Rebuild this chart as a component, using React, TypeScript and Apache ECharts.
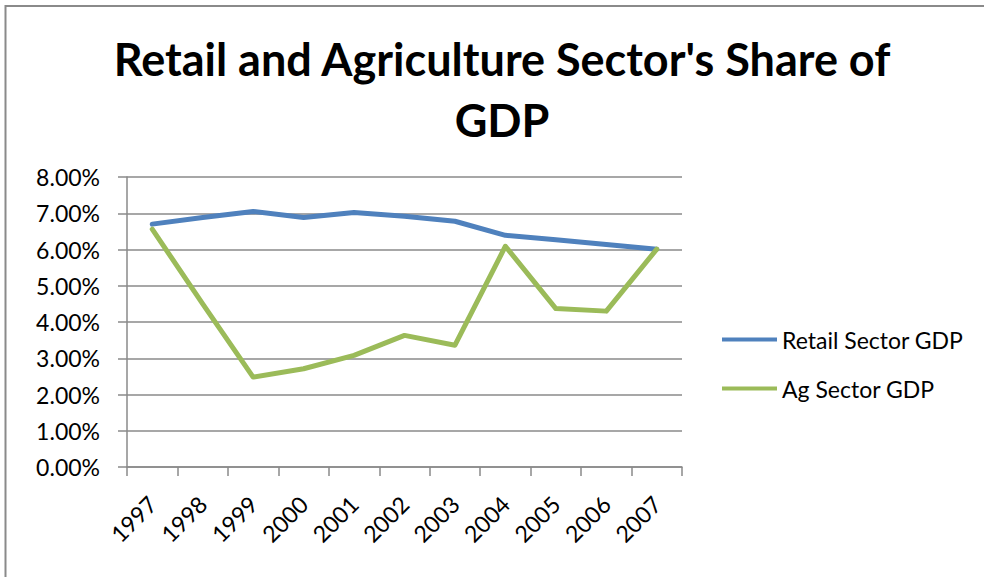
import React, { useEffect, useRef } from "react";
import * as echarts from "echarts";

const years = ["1997", "1998", "1999", "2000", "2001", "2002", "2003", "2004", "2005", "2006", "2007"];
const retailGdp = [6.7, 6.88, 7.05, 6.88, 7.02, 6.92, 6.78, 6.39, 6.27, 6.14, 6.01];
const agGdp = [6.56, 4.5, 2.48, 2.71, 3.08, 3.63, 3.36, 6.09, 4.37, 4.3, 6.01];
const seriesNames = ["Retail Sector GDP", "Ag Sector GDP"];
const titleText = "Retail and Agriculture Sector's Share of\nGDP";

export default function App() {
  const ref = useRef<HTMLDivElement>(null);
  useEffect(() => {
    if (!ref.current) return;
    document.body.style.margin = "0";
    document.body.style.overflow = "hidden";
    const chart = echarts.init(ref.current, undefined, { renderer: "svg" });
    const font = "Lato, 'Noto Sans', sans-serif";
    chart.setOption({
      animation: false,
      backgroundColor: "#ffffff",
      textStyle: { fontFamily: font },
      grid: { left: 127, right: 302, top: 177, bottom: 110, containLabel: false },
      legend: {
        orient: "vertical",
        left: 717,
        top: 323,
        itemWidth: 55,
        itemHeight: 4,
        itemGap: 26,
        icon: "rect",
        textStyle: { fontFamily: font, fontSize: 23, color: "#000" },
        data: seriesNames,
      },
      graphic: [
        {
          type: "polyline",
          shape: { points: [[990, 6], [5.5, 6], [5.5, 590]] },
          style: { stroke: "#8a8a8a", lineWidth: 2, fill: "none" },
          silent: true,
        },
        {
          type: "text",
          x: 502,
          y: 28,
          style: {
            text: titleText,
            fontFamily: font,
            fontWeight: "bold",
            fontSize: 45,
            lineHeight: 61,
            align: "center",
            verticalAlign: "top",
            fill: "#000",
          },
        },
      ],
      xAxis: {
        type: "category",
        data: years,
        boundaryGap: true,
        axisLine: { show: true, lineStyle: { color: "#8a8a8a", width: 1.5 } },
        axisTick: { show: true, length: 9, lineStyle: { color: "#8a8a8a", width: 1.5 } },
        axisLabel: { rotate: 45, margin: 33, fontSize: 23, color: "#000", fontFamily: font },
        splitLine: { show: false },
      },
      yAxis: {
        type: "value",
        min: 0,
        max: 8,
        interval: 1,
        axisLine: { show: true, lineStyle: { color: "#8a8a8a", width: 1.5 } },
        axisTick: { show: true, length: 9, lineStyle: { color: "#8a8a8a", width: 1.5 } },
        axisLabel: {
          margin: 27,
          fontSize: 23,
          color: "#000",
          fontFamily: font,
          formatter: (v: number) => v.toFixed(2) + "%",
        },
        splitLine: { show: true, lineStyle: { color: "#8a8a8a", width: 1.5 } },
      },
      series: [
        {
          name: seriesNames[0],
          type: "line",
          data: retailGdp,
          showSymbol: false,
          symbol: "none",
          itemStyle: { color: "#4F81BD" },
          lineStyle: { color: "#4F81BD", width: 5, cap: "round", join: "round" },
        },
        {
          name: seriesNames[1],
          type: "line",
          data: agGdp,
          showSymbol: false,
          symbol: "none",
          itemStyle: { color: "#9BBB59" },
          lineStyle: { color: "#9BBB59", width: 5, cap: "round", join: "round" },
        },
      ],
    });
    return () => chart.dispose();
  }, []);
  return (
    <div
      ref={ref}
      style={{ position: "fixed", left: 0, top: 0, width: 984, height: 577 }}
    />
  );
}
